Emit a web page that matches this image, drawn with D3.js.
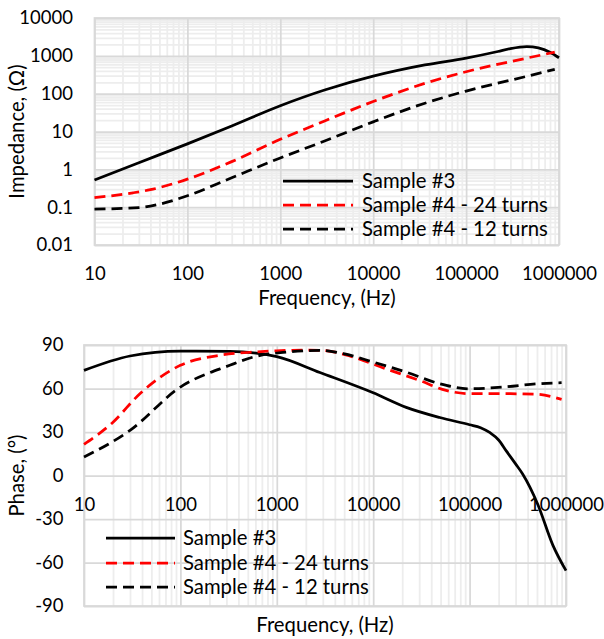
<!DOCTYPE html>
<html>
<head>
<meta charset="utf-8">
<script src="https://cdn.jsdelivr.net/npm/d3@7"></script>
<style>
  html, body { margin: 0; padding: 0; background: #fff; }
  svg { display: block; }
  text { font-family: Lato, "Open Sans", sans-serif; fill: #000; }
</style>
</head>
<body>
<svg id="chart" width="604" height="639"></svg>
<script>
// ---------------- DATA ----------------
const seriesNames = ["Sample #3", "Sample #4 - 24 turns", "Sample #4 - 12 turns"];
const freqTicks = [10, 100, 1000, 10000, 100000, 1000000];
const freqTickLabels = ["10", "100", "1000", "10000", "100000", "1000000"];
const impTicks = [0.01, 0.1, 1, 10, 100, 1000, 10000];
const impTickLabels = ["0.01", "0.1", "1", "10", "100", "1000", "10000"];
const phaseTicks = [-90, -60, -30, 0, 30, 60, 90];

// Impedance (Ohm)
const s3ZFreq = [10, 30, 100, 300, 1000, 3000, 10000, 36000, 100000, 220000, 300000, 450000, 600000, 800000, 1000000];
const s3Z     = [0.52, 1.5, 4.7, 14, 48, 125, 290, 575, 870, 1300, 1550, 1750, 1620, 1250, 890];
const s24ZFreq = [10, 26, 40, 100, 300, 1000, 3000, 10000, 36000, 100000, 430000, 900000];
const s24Z     = [0.178, 0.24, 0.29, 0.55, 1.6, 6.2, 19, 62, 187, 380, 850, 1250];
const s12ZFreq = [10, 30, 50, 100, 300, 1000, 3000, 10000, 36000, 100000, 430000, 900000];
const s12Z     = [0.089, 0.097, 0.12, 0.2, 0.6, 2.0, 5.6, 18, 56, 117, 280, 440];

// Phase (deg)
const s3PFreq = [10, 30, 100, 325, 1000, 2800, 10000, 22000, 49000, 100000, 130000, 163000, 200000, 240000, 300000, 355000, 510000, 730000, 1000000];
const s3P     = [72.5, 82.4, 85.8, 85.6, 82, 71, 57, 47, 40, 35, 33, 29.5, 24.5, 17, 8, 1, -20, -48, -65.6];
const s24PFreq = [10, 20, 38, 100, 257, 570, 1000, 2000, 3000, 6200, 13500, 30000, 57000, 100000, 260000, 500000, 900000];
const s24P     = [21.5, 36.8, 56.4, 76, 82.9, 85.1, 86, 86.5, 86.3, 81.7, 73.6, 65.6, 58.7, 56.4, 56.4, 56, 52.5];
const s12PFreq = [10, 30, 100, 325, 570, 1260, 2800, 4900, 10000, 22000, 49000, 100000, 220000, 520000, 900000];
const s12P     = [12.7, 31.1, 61, 76, 81.7, 85.1, 86.3, 84, 78.2, 71.3, 63.3, 59.8, 61, 63.3, 64];

// ---------------- STYLE ----------------
const styles = [
  { color: "#000000", dash: null },
  { color: "#ff0000", dash: "11,6" },
  { color: "#000000", dash: "11,6" }
];
const FONT = 18.5;     // tick labels
const FONT2 = 20.3;    // titles & legend
const LW = 2.75;

const svg = d3.select("#chart");

function minorTicksLog(lo, hi) {
  const out = [];
  for (let d = lo; d < hi; d *= 10) for (let k = 2; k <= 9; k++) out.push(d * k);
  return out;
}
function zip(fs, vs) { return fs.map((f, i) => ({ f: f, v: vs[i] })); }

function drawPanel(cfg) {
  const g = svg.append("g");
  const { L, R, T, B } = cfg;
  const x = d3.scaleLog().domain([10, 1e6]).range([L, R]);
  const y = cfg.y;

  // minor vertical gridlines
  g.append("g").attr("transform", `translate(0,${B})`)
    .call(d3.axisBottom(x).tickValues(minorTicksLog(10, 1e6)).tickSize(-(B - T)).tickFormat(""))
    .call(a => a.select(".domain").remove())
    .call(a => a.selectAll("line").attr("stroke", "#ededed").attr("stroke-width", 1.8));
  if (cfg.minorY) {
    g.append("g").attr("transform", `translate(${L},0)`)
      .call(d3.axisLeft(y).tickValues(cfg.minorY).tickSize(-(R - L)).tickFormat(""))
      .call(a => a.select(".domain").remove())
      .call(a => a.selectAll("line").attr("stroke", "#ededed").attr("stroke-width", 1.8));
  }
  // major gridlines
  g.append("g").attr("transform", `translate(0,${B})`)
    .call(d3.axisBottom(x).tickValues(freqTicks).tickSize(-(B - T)).tickFormat(""))
    .call(a => a.select(".domain").remove())
    .call(a => a.selectAll("line").attr("stroke", "#d9d9d9").attr("stroke-width", 1.75));
  g.append("g").attr("transform", `translate(${L},0)`)
    .call(d3.axisLeft(y).tickValues(cfg.yTicks).tickSize(-(R - L)).tickFormat(""))
    .call(a => a.select(".domain").remove())
    .call(a => a.selectAll("line").attr("stroke", "#d9d9d9").attr("stroke-width", 1.75));
  // border
  g.append("rect").attr("x", L).attr("y", T).attr("width", R - L).attr("height", B - T)
    .attr("fill", "none").attr("stroke", "#d9d9d9").attr("stroke-width", 1.75);

  // y tick labels
  g.append("g").attr("transform", `translate(${cfg.yLabelX},0)`)
    .call(d3.axisLeft(y).tickValues(cfg.yTicks).tickSize(0).tickPadding(0)
      .tickFormat((d, i) => cfg.yLabels[i]))
    .call(a => a.select(".domain").remove())
    .call(a => a.selectAll("text").attr("font-size", FONT).attr("font-family", "Lato").attr("fill", "#000"));
  // x tick labels
  g.append("g").attr("transform", `translate(0,${cfg.xLabelY})`)
    .call(d3.axisBottom(x).tickValues(freqTicks).tickSize(0).tickPadding(0)
      .tickFormat((d, i) => freqTickLabels[i]))
    .call(a => a.select(".domain").remove())
    .call(a => a.selectAll("text").attr("font-size", FONT).attr("font-family", "Lato").attr("fill", "#000").attr("dy", "0.71em"));

  // lines
  const line = d3.line().x(d => x(d.f)).y(d => y(d.v)).curve(d3.curveMonotoneX);
  cfg.series.forEach((s, i) => {
    g.append("path").datum(s).attr("d", line).attr("fill", "none")
      .attr("stroke", styles[i].color).attr("stroke-width", LW)
      .attr("stroke-dasharray", styles[i].dash);
  });

  // axis titles
  g.append("text").attr("x", cfg.xTitleX).attr("y", cfg.xTitleY).attr("text-anchor", "middle")
    .attr("font-size", FONT2).text("Frequency, (Hz)");
  g.append("text").attr("transform", `translate(${cfg.yTitleX},${(T + B) / 2}) rotate(-90)`)
    .attr("text-anchor", "middle").attr("dy", "0.35em").attr("font-size", FONT2).text(cfg.yTitle);

  // legend
  seriesNames.forEach((n, i) => {
    const yy = cfg.legY[i];
    g.append("line").attr("x1", cfg.legX1).attr("x2", cfg.legX2).attr("y1", yy).attr("y2", yy)
      .attr("stroke", styles[i].color).attr("stroke-width", LW).attr("stroke-dasharray", styles[i].dash);
    g.append("text").attr("x", cfg.legTX).attr("y", yy).attr("dy", "0.35em")
      .attr("font-size", FONT2).text(n);
  });
}

// ---------------- TOP: Impedance ----------------
const yImp = d3.scaleLog().domain([0.01, 10000]).range([245, 18]);
drawPanel({
  L: 94.5, R: 559, T: 18, B: 245,
  y: yImp,
  yTicks: impTicks, yLabels: impTickLabels, minorY: minorTicksLog(0.01, 10000),
  yLabelX: 73, xLabelY: 267,
  series: [zip(s3ZFreq, s3Z), zip(s24ZFreq, s24Z), zip(s12ZFreq, s12Z)],
  xTitleX: 327, xTitleY: 305, yTitleX: 17, yTitle: "Impedance, (Ω)",
  legX1: 283, legX2: 353, legTX: 362, legY: [181, 205, 229]
});

// ---------------- BOTTOM: Phase ----------------
const yPh = d3.scaleLinear().domain([-90, 90]).range([606, 345]);
drawPanel({
  L: 84, R: 566, T: 345, B: 606,
  y: yPh,
  yTicks: phaseTicks, yLabels: phaseTicks.map(String), minorY: null,
  yLabelX: 63.5, xLabelY: 498,
  series: [zip(s3PFreq, s3P), zip(s24PFreq, s24P), zip(s12PFreq, s12P)],
  xTitleX: 325, xTitleY: 632, yTitleX: 17, yTitle: "Phase, (°)",
  legX1: 106, legX2: 175, legTX: 183, legY: [538, 563, 587]
});
</script>
</body>
</html>
